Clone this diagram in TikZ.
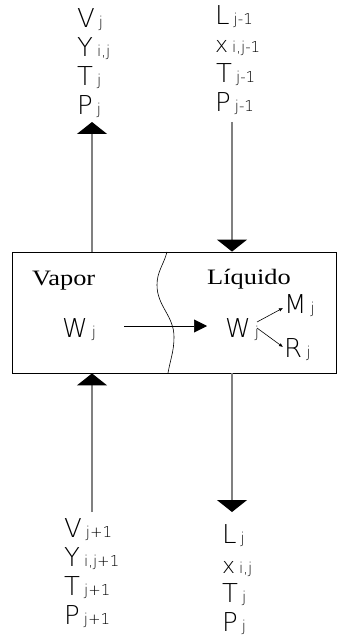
\documentclass[tikz,border=0pt]{standalone}
\usepackage{fontspec}
\usepackage{tikz}
\usetikzlibrary{arrows.meta,positioning}
\newfontfamily\simfont{DejaVu Sans ExtraLight}
\newfontfamily\titfont[FakeStretch=1.2]{Liberation Serif}
\definecolor{lineagris}{RGB}{128,128,128}
\newcommand{\etiq}[3][26]{{\fontsize{#1}{#1}\selectfont #2}\hspace{4pt}{\fontsize{15}{15}\selectfont #3}}

\begin{document}
\begin{tikzpicture}[x=1pt,y=-1pt,>=Stealth,
  etq/.style={anchor=base west,inner sep=0pt,font=\simfont},
  titulo/.style={anchor=base west,inner sep=0pt,font=\titfont\fontsize{22}{22}\selectfont},
  flujo/.style={lineagris,line width=1.2pt},
  punta/.style={-{Triangle[width=30pt,length=12pt,black]}},
  chica/.style={black,line width=.6pt,-{Latex[length=4pt,width=3.5pt]}}]
\useasboundingbox (0,0) rectangle (337,636);
% etapa j: caja y frontera vapor/liquido
\node[draw,line width=.8pt,minimum width=324pt,minimum height=121pt,inner sep=0pt]
  (etapa) at (174,312.5) {};
\draw[line width=.6pt] (167,252) to[out=-105,in=90] (157,285)
  to[out=-90,in=90] (174,337) to[out=-90,in=80] (168,373);
\node[titulo] (vap) at (32,285) {Vapor};
\node[titulo] (liq) at (207,284) {Líquido};
% --- corrientes superiores ---
\node[etq] (Vs) at (77,28) {\etiq{V}{j}};
\node[etq] (Ys) at (77,57) {\etiq{Y}{i,j}};
\node[etq] (Ts) at (77,86) {\etiq{T}{j}};
\node[etq] (Ps) at (77,115) {\etiq{P}{j}};
\node[etq] (Le) at (215,25) {\etiq{L}{j-1}};
\node[etq] (xe) at (215,53) {\etiq[22]{x}{i,j-1}};
\node[etq] (Te) at (216,83) {\etiq{T}{j-1}};
\node[etq] (Pe) at (215,112) {\etiq{P}{j-1}};
\coordinate (salV) at (92,122);
\coordinate (entL) at (232,122);
\draw[flujo,punta] (etapa.north -| salV) -- (salV);
\draw[flujo,punta] (entL) -- (etapa.north -| entL);
% --- corrientes inferiores ---
\node[etq] (Vi) at (64,537) {\etiq{V}{j+1}};
\node[etq] (Yi) at (64,566) {\etiq{Y}{i,j+1}};
\node[etq] (Ti) at (64,595) {\etiq{T}{j+1}};
\node[etq] (Pi) at (64,624) {\etiq{P}{j+1}};
\node[etq] (Ls) at (222,543) {\etiq{L}{j}};
\node[etq] (xs) at (222,573) {\etiq[22]{x}{i,j}};
\node[etq] (Tl) at (222,602) {\etiq{T}{j}};
\node[etq] (Pl) at (222,631) {\etiq{P}{j}};
\coordinate (entV) at (92,512);
\coordinate (salL) at (232,512);
\draw[flujo,punta] (entV) -- (etapa.south -| entV);
\draw[flujo,punta] (etapa.south -| salL) -- (salL);
% transferencia W
\node[etq] (Wv) at (62,337) {\etiq{W}{j}};
\node[etq] (Wl) at (225,337) {\etiq{W}{j}};
\node[etq] (Mj) at (284,313) {\etiq{M}{j}};
\node[etq] (Rj) at (284,357) {\etiq{R}{j}};
\coordinate (wa) at (124,326);
\coordinate (wb) at (207,326);
\draw[line width=.6pt,-{Triangle[width=13pt,length=13pt]}] (wa) -- (wb);
\coordinate (wm0) at (257,322);
\coordinate (wm1) at (283,308);
\coordinate (wr0) at (257,328);
\coordinate (wr1) at (283,347);
\draw[chica] (wm0) -- (wm1);
\draw[chica] (wr0) -- (wr1);
\end{tikzpicture}
\end{document}
